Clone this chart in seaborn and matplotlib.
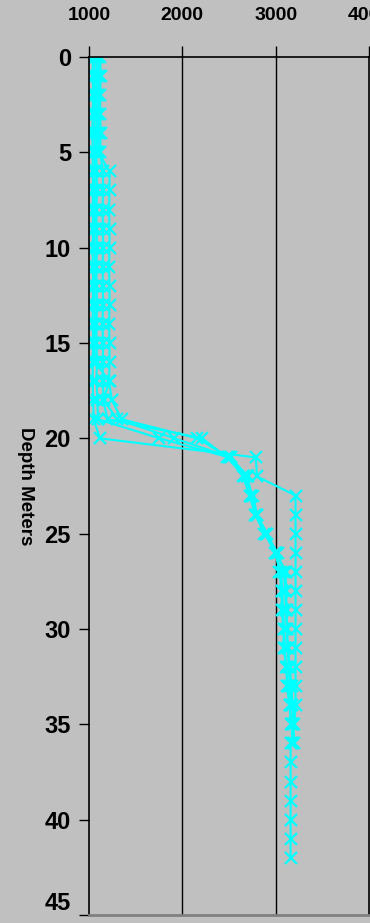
import pandas as pd
import matplotlib
matplotlib.use('Agg')
import matplotlib.pyplot as plt
import seaborn as sns

# depth in meters, one reading per meter
depth_m = [0, 1, 2, 3, 4, 5, 6, 7, 8, 9, 10, 11, 12, 13, 14, 15, 16, 17, 18, 19, 20,
           21, 22, 23, 24, 25, 26, 27, 28, 29, 30, 31, 32, 33, 34, 35, 36, 37, 38, 39,
           40, 41, 42]

# velocity profiles (m/s)
profile_a = [1040, 1040, 1045, 1040, 1035, 1040, 1040, 1045, 1040, 1045, 1040, 1040,
             1045, 1040, 1040, 1045, 1040, 1040, 1045, 1050, 1117, 2787, 2800, 3213,
             3213, 3213, 3213, 3213, 3213, 3213, 3213, 3213, 3213, 3213, 3213, 3200,
             3160, 3160, 3160, 3160, 3160, 3160, 3160]
profile_b = [1080, 1085, 1080, 1080, 1085, 1080, 1080, 1085, 1080, 1080, 1085, 1080,
             1080, 1085, 1080, 1080, 1085, 1080, 1090, 1096, 1755, 2500, 2690, 2740,
             2787, 2894, 3000, 3040, 3064, 3064, 3085, 3085, 3117, 3120, 3150, 3170,
             3180]
profile_c = [1100, 1105, 1100, 1100, 1105, 1100, 1220, 1220, 1215, 1220, 1220, 1215,
             1220, 1220, 1215, 1220, 1220, 1215, 1245, 1350, 2160, 2500, 2650, 2720,
             2780, 2880, 3000, 3110, 3110, 3120, 3120, 3130, 3150, 3170, 3180, 3190,
             3200]
profile_d = [1060, 1060, 1065, 1060, 1060, 1065, 1060, 1060, 1065, 1060, 1060, 1065,
             1060, 1060, 1065, 1060, 1060, 1223, 1150, 1200, 2213, 2480, 2660, 2760,
             2800, 2910, 2990, 3060, 3070, 3080, 3090, 3100, 3110, 3130, 3150, 3160]
profile_e = [1120, 1125, 1120, 1120, 1125, 1120, 1150, 1150, 1145, 1150, 1150, 1145,
             1150, 1150, 1145, 1150, 1150, 1145, 1160, 1300, 1915, 2520, 2700, 2740,
             2800, 2900, 3020, 3090, 3100, 3110, 3120, 3130, 3140, 3150, 3160]

profiles = {'A': profile_a, 'B': profile_b, 'C': profile_c, 'D': profile_d, 'E': profile_e}

rows = []
for name, vals in profiles.items():
    for d, v in zip(depth_m, vals):
        rows.append({'survey': name, 'depth': d, 'velocity': v})
df = pd.DataFrame(rows)

sns.set_style('white')
plt.rcParams['font.family'] = ['Liberation Sans', 'DejaVu Sans']

bg = '#C0C0C0'
fig = plt.figure(figsize=(3.7, 9.23), dpi=100, facecolor=bg)
ax = fig.add_axes([89 / 370, 8 / 923, 280 / 370, (915 - 57) / 923])
ax.set_facecolor(bg)

sns.lineplot(data=df, x='velocity', y='depth', units='survey', estimator=None,
             sort=False, color='#00FFFF', marker='x', markersize=9,
             markeredgewidth=1.6, markeredgecolor='#00FFFF', linewidth=1.5, ax=ax)

ax.set_xlim(1000, 4000)
ax.set_ylim(45, 0)
ax.set_xticks([1000, 2000, 3000, 4000])
ax.set_yticks(range(0, 46, 5))
ax.xaxis.tick_top()
ax.xaxis.set_label_position('top')
ax.set_xlabel('')
ax.set_ylabel('Depth Meters', rotation=-90, fontsize=13.5, fontweight='bold',
              color='black', va='center', ha='center')
ax.yaxis.set_label_coords((25 - 89) / 280, 0.5)

for x in [2000, 3000]:
    ax.axvline(x, color='black', linewidth=1, zorder=0)

ax.tick_params(axis='x', which='major', direction='out', length=8, width=1,
               pad=16, labelsize=14, colors='black', top=True, bottom=False)
ax.tick_params(axis='y', which='major', direction='out', length=7, width=1,
               pad=6, labelsize=17, colors='black', left=True)
for lbl in ax.get_xticklabels() + ax.get_yticklabels():
    lbl.set_fontweight('bold')
# bottom label sits just above its tick, as in the reference
ax.get_yticklabels()[-1].set_verticalalignment('bottom')

for side in ['left', 'top', 'right']:
    ax.spines[side].set_color('black')
    ax.spines[side].set_linewidth(1.2)
ax.spines['bottom'].set_color('#808080')
ax.spines['bottom'].set_linewidth(2)

fig.savefig('out.png', dpi=100, facecolor=bg)
